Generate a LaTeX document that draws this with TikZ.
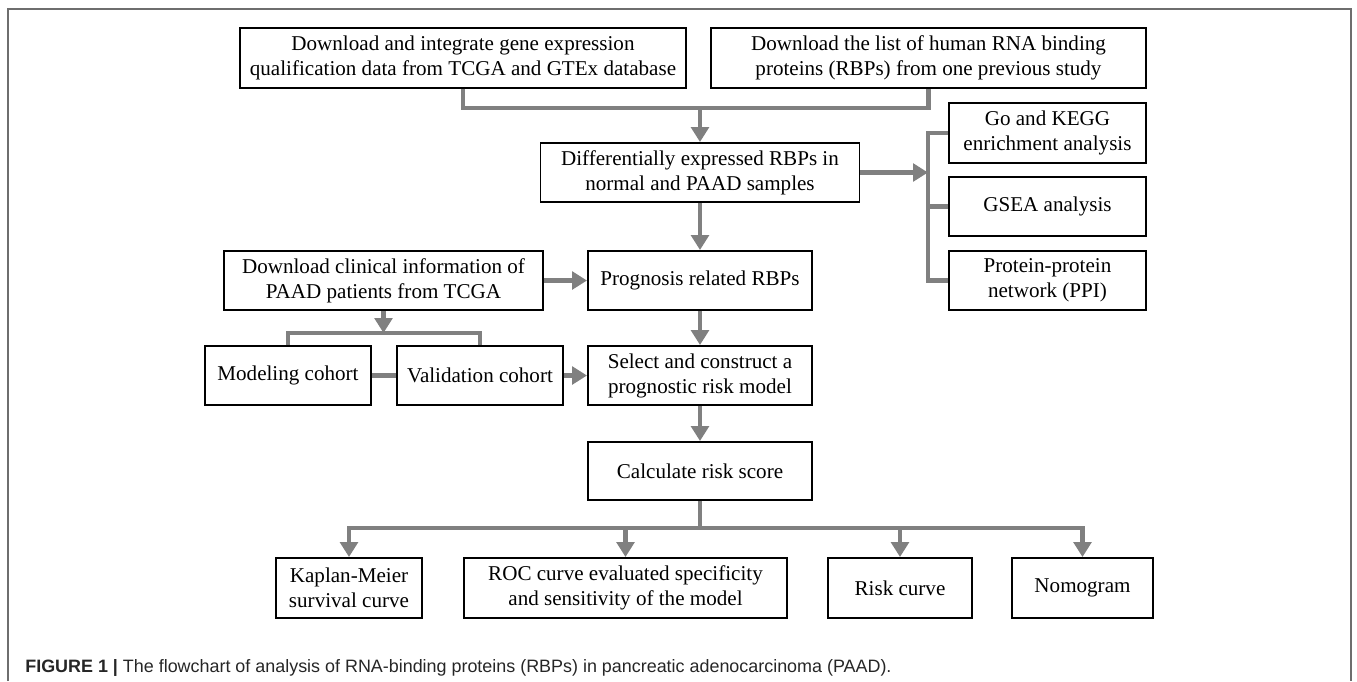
\documentclass[tikz,border=0pt]{standalone}
\usepackage{fontspec}
\setmainfont{Liberation Serif}
\newfontfamily\capfont{Liberation Sans}
\usetikzlibrary{arrows.meta}
\definecolor{flowgray}{RGB}{128,128,128}
\definecolor{framegray}{RGB}{110,110,110}
\tikzset{
  stage/.style={draw,line width=1.1pt,align=center,inner sep=0pt,
    font=\fontsize{12}{14.2}\selectfont},
  wh/.style 2 args={minimum width=#1*0.02cm,minimum height=#2*0.02cm},
  link/.style={draw=flowgray,line width=2.8pt},
  flow/.style={link,-{Triangle[length=8.5pt,width=10pt]}}
}
\begin{document}
\begin{tikzpicture}[x=0.02cm,y=-0.02cm]
  \useasboundingbox (0,0) rectangle (1357,681);
  \draw [framegray,line width=0.6pt] (8,681) -- (8,9) -- (1351,9) -- (1351,681);

  \node [stage,wh={446}{60}] (tcga) at (463,58) {Download and integrate gene expression\\qualification data from TCGA and GTEx database};
  \node [stage,wh={435}{60}] (rbplist) at (928.5,58) {Download the list of human RNA binding\\proteins (RBPs) from one previous study};
  \node [stage,wh={319}{59}] (diff) at (700,172.5) {Differentially expressed RBPs in\\normal and PAAD samples};
  \node [stage,wh={197}{60}] (go) at (1047.5,133) {Go and KEGG\\enrichment analysis};
  \node [stage,wh={197}{59}] (gsea) at (1047.5,206.5) {GSEA analysis};
  \node [stage,wh={197}{59}] (ppi) at (1047.5,280.5) {Protein-protein\\network (PPI)};
  \node [stage,wh={319}{59}] (clin) at (383.5,280.5) {Download clinical information of\\PAAD patients from TCGA};
  \node [stage,wh={224}{59}] (prog) at (700,280.5) {Prognosis related RBPs};
  \node [stage,wh={166}{59}] (model) at (288,375.5) {Modeling cohort};
  \node [stage,wh={166}{59}] (valid) at (480,375.5) {Validation cohort};
  \node [stage,wh={224}{59}] (risk) at (700,375.5) {Select and construct a\\prognostic risk model};
  \node [stage,wh={224}{58}] (score) at (700,471) {Calculate risk score};
  \node [stage,wh={146}{60}] (km) at (349,588) {Kaplan-Meier\\survival curve};
  \node [stage,wh={323}{60}] (roc) at (625.5,588) {ROC curve evaluated specificity\\and sensitivity of the model};
  \node [stage,wh={144}{60}] (rcurve) at (900,588) {Risk curve};
  \node [stage,wh={141}{60}] (nomo) at (1082.5,588) {Nomogram};

  \coordinate (topjoin) at (700,108);
  \coordinate (rightjoin) at (928,172.5);
  \coordinate (cohortjoin) at (383.5,333);
  \coordinate (lowjoin) at (700,528);

  \draw [link] (tcga.south) |- (topjoin) -| (rbplist.south);
  \draw [flow] (topjoin) -- (diff.north);
  \draw [flow] (diff.east) -- (rightjoin);
  \draw [link] (go.west) -| (rightjoin) |- (ppi.west);
  \draw [link] (gsea.west) -- (gsea.west -| rightjoin);
  \draw [flow] (diff.south) -- (prog.north);
  \draw [flow] (clin.east) -- (prog.west);
  \draw [flow] (prog.south) -- (risk.north);
  \draw [flow] (clin.south) -- (cohortjoin);
  \draw [link] (model.north) |- (cohortjoin) -| (valid.north);
  \draw [link] (model.east) -- (valid.west);
  \draw [flow] (valid.east) -- (risk.west);
  \draw [flow] (risk.south) -- (score.north);
  \draw [link] (score.south) -- (lowjoin);
  \draw [flow] (lowjoin) -| (km.north);
  \draw [flow] (lowjoin) -| (nomo.north);
  \draw [flow] (lowjoin -| roc.north) -- (roc.north);
  \draw [flow] (lowjoin -| rcurve.north) -- (rcurve.north);

  \node [anchor=west,inner sep=0pt,text=black!85,font=\capfont\fontsize{10.2}{12}\selectfont] (caption) at (25,668)
    {\textbf{FIGURE 1 |} The flowchart of analysis of RNA-binding proteins (RBPs) in pancreatic adenocarcinoma (PAAD).};
\end{tikzpicture}
\end{document}
